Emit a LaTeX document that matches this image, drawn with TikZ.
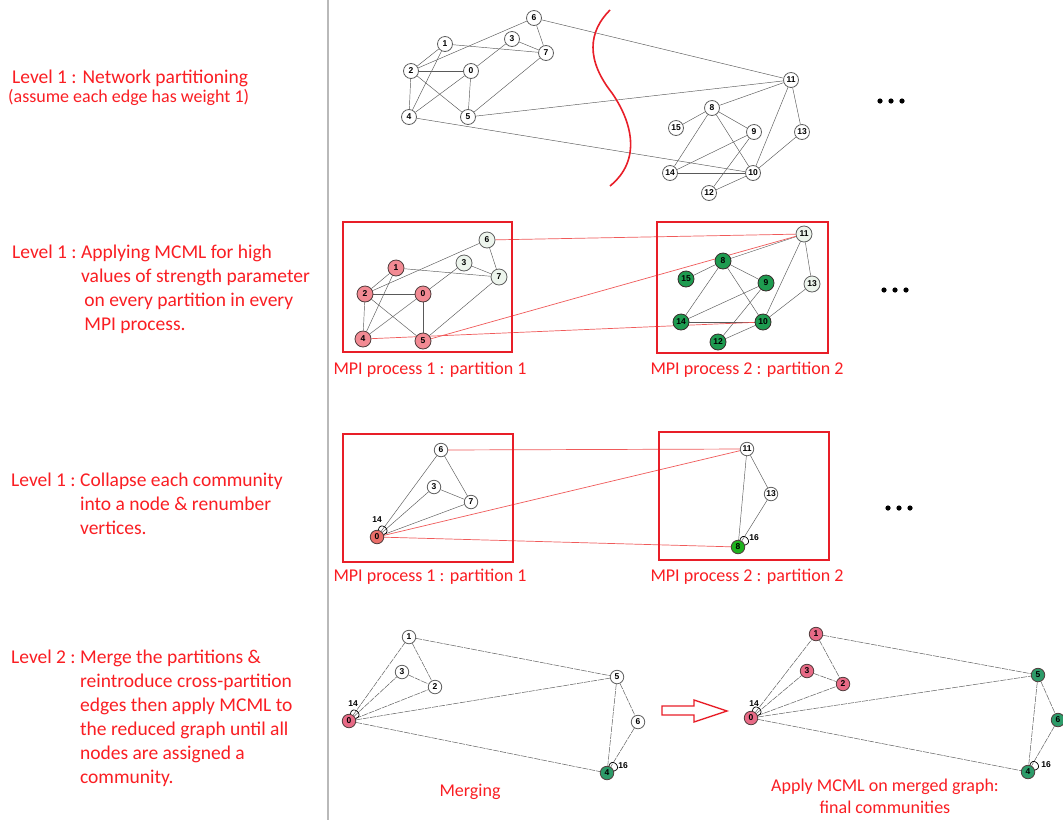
\documentclass[tikz,border=0pt]{standalone}
\usepackage{fontspec}
\setmainfont{Carlito}
\newfontfamily\nodefont{Liberation Sans}
\pgfdeclarelayer{bg}
\pgfsetlayers{bg,main}
\definecolor{txtred}{RGB}{250,30,35}
\definecolor{boxred}{RGB}{232,30,40}
\definecolor{edgered}{RGB}{240,90,90}
\definecolor{lightnode}{RGB}{237,245,237}
\definecolor{pinkA}{RGB}{242,138,147}
\definecolor{greenA}{RGB}{30,155,80}
\definecolor{redB}{RGB}{235,110,105}
\definecolor{greenB}{RGB}{30,178,30}
\definecolor{pinkC}{RGB}{232,106,134}
\definecolor{greenC}{RGB}{45,155,105}
\definecolor{darkrim}{RGB}{80,60,60}
\tikzset{
  vtx/.style={circle, draw=gray!75!black, line width=0.8pt, fill=white, inner sep=0pt,
    minimum size=15pt, font=\nodefont\bfseries\fontsize{8.5}{9}\selectfont},
  vsmall/.style={vtx, minimum size=13.5pt},
  lite/.style={fill=lightnode},
  pinkv/.style={fill=pinkA, draw=darkrim},
  greenv/.style={fill=greenA, draw=darkrim!70!black},
  gedge/.style={draw=gray!70!black, line width=0.45pt},
  redge/.style={draw=edgered, line width=0.7pt},
  dedge/.style={draw=gray!75!black, line width=0.5pt, dash pattern=on 6pt off 1pt},
  redbox/.style={draw=boxred, line width=1.5pt},
  lbl/.style={text=txtred, font=\fontsize{18}{22}\selectfont, inner sep=0pt},
  desc/.style={text=txtred, font=\fontsize{19.5}{24}\selectfont, inner sep=0pt, anchor=north west, align=left},
  looplbl/.style={font=\nodefont\bfseries\fontsize{8.5}{9}\selectfont, inner sep=0pt},
  selfloop/.style={draw=black, line width=0.7pt, looseness=3.6}
}
\begin{document}
\begin{tikzpicture}[x=1pt,y=-1pt]
\useasboundingbox (0,0) rectangle (1063,820);
\begin{pgfonlayer}{bg}
\fill[white] (0,0) rectangle (1063,820);
\end{pgfonlayer}
% divider
\draw[gray!55, line width=1.5pt] (328,0) -- (328,820);

% ---------- left descriptions ----------
\node[text=txtred, font=\fontsize{19.5}{24}\selectfont, inner sep=0pt, anchor=west] (t1) at (12,78) {Level 1 : Network partitioning};
\node[text=txtred, font=\fontsize{18}{22}\selectfont, inner sep=0pt, anchor=west] (t1b) at (8,97) {(assume each edge has weight 1)};
\node[desc] (t2) at (12,241) {\begin{tabular}{@{}l@{}l@{}}Level 1 :\ \mbox{}&Applying MCML for high\\&values of strength parameter\\&\,on every partition in every\\&\,MPI process.\end{tabular}};
\node[desc] (t3) at (11,469) {\begin{tabular}{@{}l@{}l@{}}Level 1 :\ \mbox{}&Collapse each community\\&into a node \& renumber\\&vertices.\end{tabular}};
\node[desc] (t4) at (11,646) {\begin{tabular}{@{}l@{}l@{}}Level 2 :\ \mbox{}&Merge the partitions \&\\&reintroduce cross-partition\\&edges then apply MCML to\\&the reduced graph until all\\&nodes are assigned a\\&community.\end{tabular}};

% ---------- row 1: original network ----------
\foreach \n/\x/\y in {6/534/18, 1/445/44, 3/512/39, 7/546/53, 2/411/71, 0/471/71, 4/409/117, 5/468/117,
  11/791/80, 8/712/108, 15/676/128, 9/754/132, 13/802/132, 14/670/173, 10/753/173, 12/709/193}
  \node[vtx] (a\n) at (\x,\y) {\n};
\begin{pgfonlayer}{bg}
\foreach \u/\v in {6/2, 6/7, 6/11, 1/2, 1/4, 1/7, 3/7, 3/0, 2/0, 2/4, 2/5, 0/4, 0/5, 7/5, 5/11, 4/10,
  11/8, 11/10, 11/13, 8/15, 8/9, 8/10, 8/14, 9/14, 9/12, 14/10, 10/12, 13/10}
  \draw[gedge] (a\u) -- (a\v);
\end{pgfonlayer}
% partition cut
\draw[boxred, line width=1.6pt] (610,10) .. controls (588,32) and (586,60) .. (612,93)
  .. controls (632,122) and (642,160) .. (610,186);

% ---------- row 2: MCML on partitions ----------
\draw[redbox] (343,222) rectangle (512,352);
\draw[redbox] (657,222) rectangle (828,353);
\foreach \n/\x/\y/\s in {6/487/240/lite, 3/464/263/lite, 7/499/277/lite, 1/396/268/pinkv, 2/365/294/pinkv,
  0/423/294/pinkv, 4/363/339/pinkv, 5/423/341/pinkv,
  11/804/234/lite, 13/812/284/lite, 8/723/261/greenv, 15/686/279/greenv, 9/766/283/greenv,
  14/681/322/greenv, 10/763/322/greenv, 12/718/342/greenv}
  \node[vtx, minimum size=16pt, \s] (b\n) at (\x,\y) {\n};
\begin{pgfonlayer}{bg}
\foreach \u/\v in {6/2, 6/7, 1/2, 1/4, 1/7, 3/7, 3/0, 2/0, 2/4, 2/5, 0/4, 0/5, 7/5,
  11/8, 11/10, 11/13, 8/15, 8/9, 8/10, 8/14, 9/14, 9/12, 14/10, 10/12, 13/10}
  \draw[gedge] (b\u) -- (b\v);
\foreach \u/\v in {6/11, 5/11, 4/10}
  \draw[redge] (b\u) -- (b\v);
\end{pgfonlayer}
\node[lbl] (l21) at (430,370) {MPI process 1 : partition 1};
\node[lbl] (l22) at (747,370) {MPI process 2 : partition 2};

% ---------- row 3: collapsed ----------
\draw[redbox] (343,434) rectangle (513,562);
\draw[redbox] (659,432) rectangle (829,560);
\foreach \n/\x/\y in {6/441/450, 3/434/487, 7/471/502, 11/747/449, 13/771/494}
  \node[vsmall] (c\n) at (\x,\y) {\n};
\node[vsmall, fill=redB, draw=darkrim] (c0) at (377,537) {0};
\node[vsmall, fill=greenB, draw=darkrim] (c8) at (738,547) {8};
\begin{pgfonlayer}{bg}
\foreach \u/\v in {0/6, 0/3, 0/7, 6/7, 3/7, 11/8, 11/13, 13/8}
  \draw[gedge] (c\u) -- (c\v);
\foreach \u/\v in {6/11, 0/11, 0/8}
  \draw[redge] (c\u) -- (c\v);
\end{pgfonlayer}
\draw[selfloop] (c0) to[out=80, in=20] (c0);
\draw[selfloop] (c8) to[out=75, in=15] (c8);
\node[looplbl] (c0l) at (377,520) {14};
\node[looplbl] (c8l) at (754,538) {16};
\node[lbl] (l31) at (430,577) {MPI process 1 : partition 1};
\node[lbl] (l32) at (747,577) {MPI process 2 : partition 2};

% ---------- row 4 left: merged ----------
\foreach \n/\x/\y in {1/409/637, 3/402/672, 2/435/687, 5/617/677, 6/638/722}
  \node[vsmall] (d\n) at (\x,\y) {\n};
\node[vsmall, fill=pinkC, draw=darkrim] (d0) at (349,721) {0};
\node[vsmall, fill=greenC, draw=darkrim] (d4) at (607,773) {4};
\begin{pgfonlayer}{bg}
\foreach \u/\v in {0/1, 0/3, 0/2, 0/5, 0/4, 1/2, 3/2, 1/5, 5/4, 5/6, 6/4}
  \draw[dedge] (d\u) -- (d\v);
\end{pgfonlayer}
\draw[selfloop] (d0) to[out=80, in=20] (d0);
\draw[selfloop] (d4) to[out=75, in=15] (d4);
\node[looplbl] (d0l) at (353,704) {14};
\node[looplbl] (d4l) at (623,766) {16};
\node[lbl] (l41) at (470,792) {Merging};

% arrow
\draw[boxred, line width=1.3pt, line join=miter] (662,706) -- (694,706) -- (694,700) -- (727,711)
  -- (694,722) -- (694,715) -- (662,715) -- cycle;

% ---------- row 4 right: final ----------
\foreach \n/\x/\y in {1/816/634, 3/807/671, 2/843/684, 0/751/718}
  \node[vsmall, fill=pinkC, draw=darkrim] (e\n) at (\x,\y) {\n};
\foreach \n/\x/\y in {5/1038/675, 6/1058/720, 4/1028/772}
  \node[vsmall, fill=greenC, draw=darkrim] (e\n) at (\x,\y) {\n};
\begin{pgfonlayer}{bg}
\foreach \u/\v in {0/1, 0/3, 0/2, 0/5, 0/4, 1/2, 3/2, 1/5, 5/4, 5/6, 6/4}
  \draw[dedge] (e\u) -- (e\v);
\end{pgfonlayer}
\draw[selfloop] (e0) to[out=80, in=20] (e0);
\draw[selfloop] (e4) to[out=75, in=15] (e4);
\node[looplbl] (e0l) at (754,704) {14};
\node[looplbl] (e4l) at (1046,765) {16};
\node[lbl, align=center] (l42) at (885,796) {Apply MCML on merged graph:\\final communities};

% ellipses
\foreach \yy/\xx in {101/880, 290/884, 508/888}{
  \fill (\xx,\yy) circle (2.6pt);
  \fill (\xx+11,\yy) circle (2.6pt);
  \fill (\xx+22,\yy) circle (2.6pt);
}
\end{tikzpicture}
\end{document}
